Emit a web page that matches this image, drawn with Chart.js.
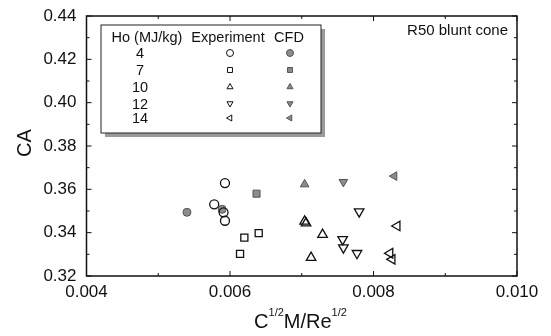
<!DOCTYPE html>
<html>
<head>
<meta charset="utf-8">
<script src="https://cdn.jsdelivr.net/npm/chart.js@4/dist/chart.umd.min.js"></script>
<style>
  body { margin: 0; background: #fff; }
  canvas { display: block; }
</style>
</head>
<body>
<canvas id="caChart" width="551" height="336"></canvas>
<script>
// ---------- data ----------
const energies = ['4', '7', '10', '12', '14'];   // Ho (MJ/kg)

const exp4X  = [0.00593, 0.00578, 0.00591, 0.00593];
const exp4Y  = [0.3629, 0.3531, 0.3494, 0.3455];
const cfd4X  = [0.00540, 0.00589];
const cfd4Y  = [0.3494, 0.3508];

const exp7X  = [0.00640, 0.00620, 0.00614];
const exp7Y  = [0.3398, 0.3377, 0.3302];
const cfd7X  = [0.00637];
const cfd7Y  = [0.3580];

const exp10X = [0.00704, 0.00706, 0.00729, 0.00713];
const exp10Y = [0.3452, 0.3444, 0.3391, 0.3285];
const cfd10X = [0.00704];
const cfd10Y = [0.3623];

const exp12X = [0.00780, 0.00757, 0.00758, 0.00777];
const exp12Y = [0.3497, 0.3369, 0.3331, 0.3305];
const cfd12X = [0.00758];
const cfd12Y = [0.3634];

const exp14X = [0.00833, 0.00823, 0.00826];
const exp14Y = [0.3431, 0.3305, 0.3277];
const cfd14X = [0.00829];
const cfd14Y = [0.3661];

const xTicks = [0.004, 0.006, 0.008, 0.010];
const yTicks = [0.32, 0.34, 0.36, 0.38, 0.40, 0.42, 0.44];

// ---------- marker styles per energy ----------
const markers = [
  { style: 'circle',   rotation: 0,   r: 4.5, rf: 4 },
  { style: 'rect',     rotation: 0,   r: 5,   rf: 5 },
  { style: 'triangle', rotation: 0,   r: 5.5, rf: 5 },
  { style: 'triangle', rotation: 180, r: 5.5, rf: 5 },
  { style: 'triangle', rotation: 270, r: 5.5, rf: 5 }
];

const FONT = '"Liberation Sans", Arial, sans-serif';
const zip = (xs, ys) => xs.map((x, i) => ({ x: x, y: ys[i] }));

const expData = [zip(exp4X, exp4Y), zip(exp7X, exp7Y), zip(exp10X, exp10Y), zip(exp12X, exp12Y), zip(exp14X, exp14Y)];
const cfdData = [zip(cfd4X, cfd4Y), zip(cfd7X, cfd7Y), zip(cfd10X, cfd10Y), zip(cfd12X, cfd12Y), zip(cfd14X, cfd14Y)];

const datasets = [];
energies.forEach((e, i) => {
  datasets.push({
    label: 'Exp ' + e,
    data: expData[i],
    pointStyle: markers[i].style,
    rotation: markers[i].rotation,
    pointRadius: markers[i].r,
    borderColor: '#111',
    backgroundColor: 'rgba(255,255,255,0)',
    borderWidth: 1.3
  });
  datasets.push({
    label: 'CFD ' + e,
    data: cfdData[i],
    pointStyle: markers[i].style,
    rotation: markers[i].rotation,
    pointRadius: markers[i].rf,
    borderColor: '#555',
    backgroundColor: '#8c8c8c',
    borderWidth: 1
  });
});

// ---------- frame, inward ticks, titles, legend box ----------
const decorPlugin = {
  id: 'decor',
  afterDraw(chart) {
    const ctx = chart.ctx;
    const a = chart.chartArea;
    const xs = chart.scales.x, ys = chart.scales.y;
    ctx.save();
    ctx.strokeStyle = '#111';
    ctx.lineWidth = 1.5;
    ctx.strokeRect(a.left, a.top, a.right - a.left, a.bottom - a.top);

    ctx.lineWidth = 1;
    ctx.beginPath();
    for (let v = 0.004; v <= 0.01001; v += 0.001) {
      const px = xs.getPixelForValue(v);
      const major = Math.round(v * 1000) % 2 === 0;
      const len = major ? 5 : 3;
      ctx.moveTo(px, a.bottom); ctx.lineTo(px, a.bottom - len);
      ctx.moveTo(px, a.top);    ctx.lineTo(px, a.top + len);
    }
    for (let v = 0.32; v <= 0.44001; v += 0.01) {
      const py = ys.getPixelForValue(v);
      const major = Math.round(v * 100) % 2 === 0;
      const len = major ? 5 : 3;
      ctx.moveTo(a.left, py);  ctx.lineTo(a.left + len, py);
      ctx.moveTo(a.right, py); ctx.lineTo(a.right - len, py);
    }
    ctx.stroke();

    // y title
    ctx.fillStyle = '#111';
    ctx.font = '20px ' + FONT;
    ctx.textAlign = 'center';
    ctx.textBaseline = 'middle';
    ctx.save();
    ctx.translate(25, 143);
    ctx.rotate(-Math.PI / 2);
    ctx.fillText('CA', 0, 0);
    ctx.restore();

    // x title with superscripts
    const parts = [['C', 0], ['1/2', 1], ['M/Re', 0], ['1/2', 1]];
    const big = '20px ' + FONT;
    const small = '11px ' + FONT;
    let total = 0;
    parts.forEach(p => { ctx.font = p[1] ? small : big; total += ctx.measureText(p[0]).width; });
    let cx = 300.5 - total / 2;
    const base = 328;
    ctx.textAlign = 'left';
    ctx.textBaseline = 'alphabetic';
    parts.forEach(p => {
      ctx.font = p[1] ? small : big;
      ctx.fillText(p[0], cx, p[1] ? base - 12 : base);
      cx += ctx.measureText(p[0]).width;
    });

    // annotation
    ctx.font = '15px ' + FONT;
    ctx.textAlign = 'right';
    ctx.textBaseline = 'middle';
    ctx.fillText('R50 blunt cone', 508, 31);

    // legend box with shadow
    const bx = 101, by = 25, bw = 220, bh = 108;
    ctx.fillStyle = '#9a9a9a';
    ctx.fillRect(bx + 4, by + 4, bw, bh);
    ctx.fillStyle = '#fff';
    ctx.fillRect(bx, by, bw, bh);
    ctx.strokeStyle = '#222';
    ctx.lineWidth = 1;
    ctx.strokeRect(bx, by, bw, bh);

    ctx.fillStyle = '#111';
    ctx.font = '14.5px ' + FONT;
    ctx.textAlign = 'center';
    ctx.textBaseline = 'middle';
    ctx.fillText('Ho (MJ/kg)', 147, 38);
    ctx.fillText('Experiment', 228, 38);
    ctx.fillText('CFD', 289, 38);
    const rowY = [53, 70, 87, 103.5, 118];
    energies.forEach((e, i) => {
      ctx.fillStyle = '#111';
      ctx.fillText(e, 140, rowY[i] + 1);
      const m = markers[i];
      ctx.strokeStyle = '#111';
      ctx.lineWidth = 1;
      ctx.fillStyle = 'rgba(255,255,255,0)';
      Chart.helpers.drawPoint(ctx, { pointStyle: m.style, rotation: m.rotation, radius: 3.5, borderWidth: 1 }, 230, rowY[i]);
      ctx.strokeStyle = '#555';
      ctx.fillStyle = '#8c8c8c';
      Chart.helpers.drawPoint(ctx, { pointStyle: m.style, rotation: m.rotation, radius: 3.5, borderWidth: 1 }, 290, rowY[i]);
    });
    ctx.restore();
  }
};

const ctx = document.getElementById('caChart').getContext('2d');
const caChart = new Chart(ctx, {
  type: 'scatter',
  data: { datasets: datasets },
  options: {
    responsive: false,
    animation: false,
    devicePixelRatio: 1,
    layout: { padding: { left: 0, right: 34, top: 16, bottom: 0 } },
    plugins: { legend: { display: false }, tooltip: { enabled: false } },
    scales: {
      x: {
        type: 'linear',
        min: 0.004, max: 0.010,
        afterBuildTicks: s => { s.ticks = xTicks.map(v => ({ value: v })); },
        afterFit: s => { s.height = 60; },
        grid: { display: false },
        border: { display: false },
        ticks: {
          color: '#111',
          padding: -2,
          maxRotation: 0,
          font: { family: FONT, size: 17 },
          callback: v => v.toFixed(3)
        }
      },
      y: {
        type: 'linear',
        min: 0.32, max: 0.44,
        afterBuildTicks: s => { s.ticks = yTicks.map(v => ({ value: v })); },
        afterFit: s => { s.width = 86.5; },
        grid: { display: false },
        border: { display: false },
        ticks: {
          color: '#111',
          padding: 2,
          font: { family: FONT, size: 17 },
          callback: v => v.toFixed(2)
        }
      }
    }
  },
  plugins: [decorPlugin]
});
</script>
</body>
</html>
